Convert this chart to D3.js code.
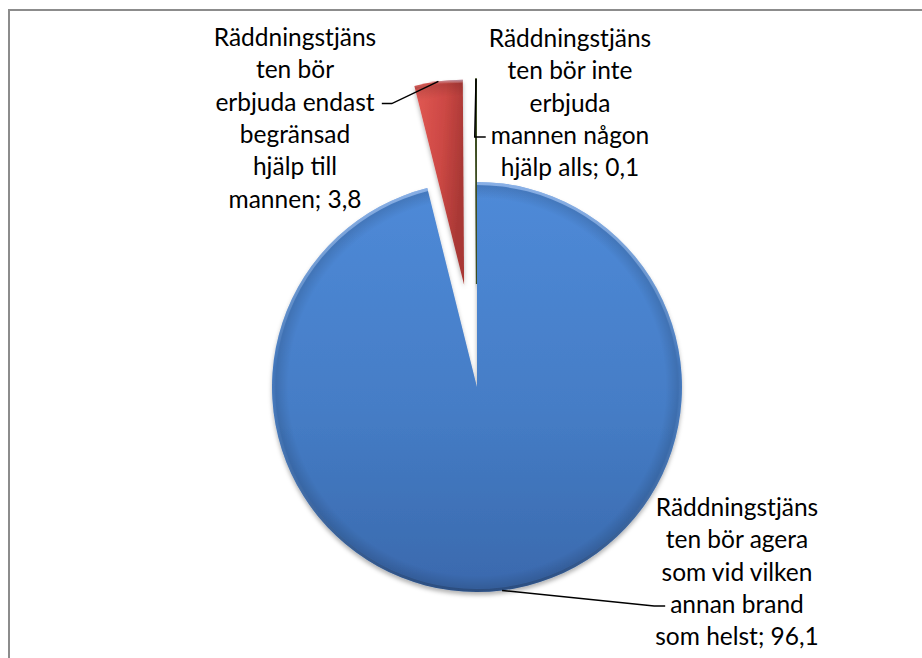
<!DOCTYPE html>
<html>
<head>
<meta charset="utf-8">
<script src="https://cdn.jsdelivr.net/npm/d3@7"></script>
<style>
  body { margin: 0; background: #ffffff; }
  text { font-family: Lato, "Open Sans", sans-serif; }
</style>
</head>
<body>
<svg id="pieChart" width="922" height="658"></svg>
<script>
// data
const categories = [
  "Räddningstjänsten bör agera som vid vilken annan brand som helst",
  "Räddningstjänsten bör erbjuda endast begränsad hjälp till mannen",
  "Räddningstjänsten bör inte erbjuda mannen någon hjälp alls"
];
const values = [96.1, 3.8, 0.1];
// wrapped label text, value gets appended to the last line
const labelLines = [
  ["Räddningstjäns", "ten bör agera", "som vid vilken", "annan brand", "som helst;"],
  ["Räddningstjäns", "ten bör", "erbjuda endast", "begränsad", "hjälp till", "mannen;"],
  ["Räddningstjäns", "ten bör inte", "erbjuda", "mannen någon", "hjälp alls;"]
];

const svg = d3.select("#pieChart");
const width = +svg.attr("width");
const height = +svg.attr("height");

const cx = 477, cy = 387, radius = 205;
const explode = [0, 103, 103];
const lineHeight = 32.3;

// label layout: centre x, first baseline, which line the leader meets, side
const labelLayout = [
  { x: 737, y: 516, line: 3, side: "left" },
  { x: 295, y: 46, line: 2, side: "right" },
  { x: 570, y: 47, line: 3, side: "left" }
];

const fmt = d3.formatLocale({ decimal: ",", thousands: " ", grouping: [3], currency: ["", " kr"] }).format(".1f");

// frame
svg.append("rect")
  .attr("x", 9).attr("y", 10)
  .attr("width", width + 20).attr("height", height + 20)
  .attr("fill", "none")
  .attr("stroke", "#8c8c8c")
  .attr("stroke-width", 2);

const defs = svg.append("defs");

const shadow = defs.append("filter").attr("id", "shadow")
  .attr("x", "-20%").attr("y", "-20%").attr("width", "140%").attr("height", "140%");
shadow.append("feDropShadow")
  .attr("dx", 0).attr("dy", 3).attr("stdDeviation", 2)
  .attr("flood-color", "#000").attr("flood-opacity", 0.3);

const fills = [
  { id: "gBlue", x2: "0", y2: "1", stops: [["0%", "#4f8ad8"], ["55%", "#457dc6"], ["100%", "#3a69ad"]] },
  { id: "gRed", x2: "1", y2: "0.3", stops: [["0%", "#e35a55"], ["60%", "#cc4844"], ["100%", "#a93835"]] },
  { id: "gGreen", x2: "1", y2: "0", stops: [["0%", "#b5d37a"], ["100%", "#7f9a44"]] }
];
fills.forEach(f => {
  const g = defs.append("linearGradient").attr("id", f.id)
    .attr("x1", 0).attr("y1", 0).attr("x2", f.x2).attr("y2", f.y2);
  f.stops.forEach(s => g.append("stop").attr("offset", s[0]).attr("stop-color", s[1]));
});

// bevel: darker band just inside the edge
const rim = defs.append("radialGradient").attr("id", "rim")
  .attr("gradientUnits", "userSpaceOnUse")
  .attr("cx", 0).attr("cy", 0).attr("r", radius);
rim.append("stop").attr("offset", "0%").attr("stop-color", "#000").attr("stop-opacity", 0);
rim.append("stop").attr("offset", "92%").attr("stop-color", "#000").attr("stop-opacity", 0);
rim.append("stop").attr("offset", "98%").attr("stop-color", "#000").attr("stop-opacity", 0.12);
rim.append("stop").attr("offset", "100%").attr("stop-color", "#000").attr("stop-opacity", 0.05);

// highlight on the top edge, shade at the bottom
const rimLight = defs.append("linearGradient").attr("id", "rimLight")
  .attr("x1", 0).attr("y1", 0).attr("x2", 0).attr("y2", 1);
rimLight.append("stop").attr("offset", "0%").attr("stop-color", "#bcd6ff").attr("stop-opacity", 0.55);
rimLight.append("stop").attr("offset", "45%").attr("stop-color", "#ffffff").attr("stop-opacity", 0);
rimLight.append("stop").attr("offset", "100%").attr("stop-color", "#000000").attr("stop-opacity", 0.2);

const pie = d3.pie().sort(null).value(d => d);
const arcs = pie(values);

const arc = d3.arc().innerRadius(0).outerRadius(radius);
const outerPoint = d3.arc().innerRadius(radius).outerRadius(radius);

const offset = (d, i) => {
  const a = (d.startAngle + d.endAngle) / 2;
  return [Math.sin(a) * explode[i], -Math.cos(a) * explode[i]];
};

const g = svg.append("g").attr("transform", `translate(${cx}, ${cy})`);

const slices = g.selectAll("g.slice")
  .data(arcs)
  .enter()
  .append("g")
  .attr("class", "slice")
  .attr("transform", (d, i) => `translate(${offset(d, i)})`);

slices.append("path")
  .attr("d", arc)
  .attr("fill", (d, i) => `url(#${fills[i].id})`)
  .attr("filter", "url(#shadow)")
  .attr("stroke", (d, i) => i === 2 ? "#3e4d22" : "none")
  .attr("stroke-width", (d, i) => i === 2 ? 1.6 : 0);

slices.filter((d, i) => i < 2).append("path")
  .attr("d", arc)
  .attr("fill", "url(#rim)");

slices.filter((d, i) => i < 2).append("path")
  .attr("d", d3.arc().innerRadius(radius - 3).outerRadius(radius))
  .attr("fill", "url(#rimLight)");

// labels
const labels = svg.append("g");
arcs.forEach((d, i) => {
  const lay = labelLayout[i];
  const lines = labelLines[i].slice();
  lines[lines.length - 1] += " " + fmt(values[i]);

  const t = labels.append("text")
    .attr("text-anchor", "middle")
    .attr("font-size", "24.5px")
    .attr("fill", "#000");
  t.selectAll("tspan")
    .data(lines)
    .enter()
    .append("tspan")
    .attr("x", lay.x)
    .attr("y", (l, k) => lay.y + k * lineHeight)
    .text(l => l);

  // leader line
  const tsp = t.selectAll("tspan").nodes()[lay.line];
  const bb = tsp.getBBox();
  const ly = lay.y + lay.line * lineHeight - 7;
  const endX = lay.side === "left" ? bb.x - 5 : bb.x + bb.width + 7;
  const elbowX = lay.side === "left" ? endX - 11 : endX + 10;

  const o = offset(d, i);
  const p = outerPoint.centroid(d);
  const start = [cx + o[0] + p[0], cy + o[1] + p[1]];

  labels.append("path")
    .attr("d", d3.line()([start, [elbowX, ly], [endX, ly]]))
    .attr("fill", "none")
    .attr("stroke", "#000")
    .attr("stroke-width", 1.5);
});
</script>
</body>
</html>
